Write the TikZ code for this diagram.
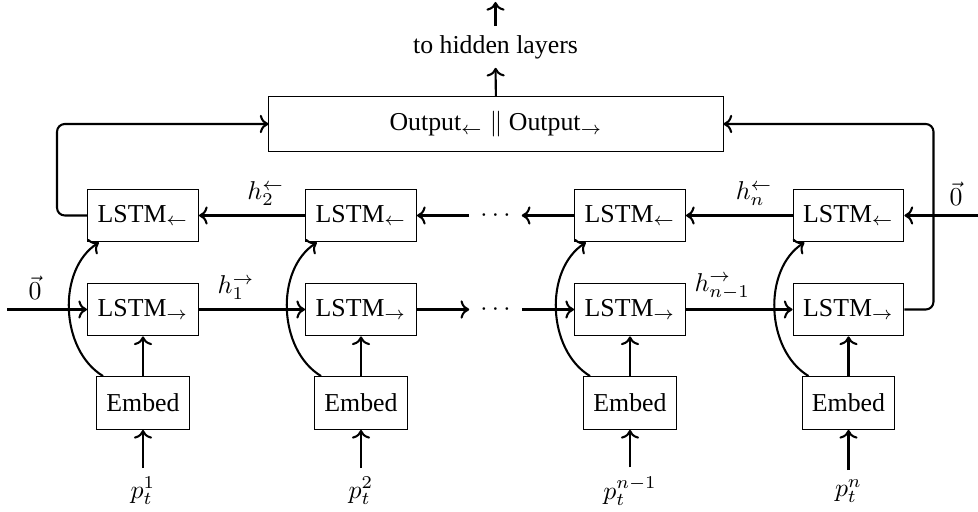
\documentclass[tikz,border=0pt]{standalone}
\usepackage{fontspec}
\setmainfont{Liberation Serif}
\usetikzlibrary{positioning,arrows.meta,calc}

\begin{document}
\begin{tikzpicture}[
    x=0.3876pt, y=-0.3876pt,
    box/.style={rectangle, draw=black, minimum width=43pt, minimum height=20.5pt,
                inner sep=1pt},
    embbox/.style={box, minimum width=36pt},
    arrow/.style={->, thick},
    dotsnode/.style={minimum width=20pt, inner sep=0pt}
]
    \useasboundingbox (0,0) rectangle (978,512);

    % one column per time step: 1, 2, n-1, n
    \foreach \i/\x/\p in {1/143/1, 2/361/2, 3/630/{n-1}, 4/848.5/n} {
        \node[embbox] (emb\i) at (\x,403)   {Embed};
        \node[box]    (fwd\i) at (\x,309.5) {LSTM$_\rightarrow$};
        \node[box]    (bwd\i) at (\x,215.5) {LSTM$_\leftarrow$};
        \node         (p\i)   at (\x,491)   {$p_t^{\p}$};

        \draw[arrow] (p\i) -- (emb\i);
        \draw[arrow] (emb\i) -- (fwd\i);
        \draw[arrow] ([xshift=2.7pt]emb\i.north west)
            .. controls +(-43,-26) and +(-42,27) .. ([xshift=4.6pt]bwd\i.south west);
    }

    \node[dotsnode] (fdots) at (495.5,309.5) {$\cdots$};
    \node[dotsnode] (bdots) at (495.5,215.5) {$\cdots$};

    % forward chain
    \coordinate (fin) at (7,309.5);
    \draw[arrow] (fin)   -- node[above, pos=0.35] {$\vec{0}$} (fwd1);
    \draw[arrow] (fwd1)  -- node[above, pos=0.35] {$h_1^{\rightarrow}$} (fwd2);
    \draw[arrow] (fwd2)  -- (fdots);
    \draw[arrow] (fdots) -- (fwd3);
    \draw[arrow] (fwd3)  -- node[above, pos=0.34] {$h_{n-1}^{\rightarrow}$} (fwd4);

    % backward chain
    \coordinate (bin) at (978,215.5);
    \draw[arrow] (bin)   -- node[above, pos=0.3] {$\vec{0}$} (bwd4);
    \draw[arrow] (bwd4)  -- node[above, pos=0.36] {$h_n^{\leftarrow}$} (bwd3);
    \draw[arrow] (bwd3)  -- (bdots);
    \draw[arrow] (bdots) -- (bwd2);
    \draw[arrow] (bwd2)  -- node[above, pos=0.37] {$h_2^{\leftarrow}$} (bwd1);

    % concatenated output
    \node[box, minimum width=176pt, minimum height=21pt] (out) at (496,124)
        {Output$_{\leftarrow}$ $\|$ Output$_{\rightarrow}$};
    \node (hid) at (495.5,47) {to hidden layers};
    \coordinate (top) at (495.5,2);
    \draw[arrow] (out) -- (hid);
    \draw[arrow] (hid) -- (top);

    \draw[arrow, rounded corners=3pt] (bwd1.west) -- ++(-30,0) |- (out.west);
    \draw[arrow, rounded corners=3pt] (fwd4.east) -- ++(29,0) |- (out.east);
\end{tikzpicture}
\end{document}
